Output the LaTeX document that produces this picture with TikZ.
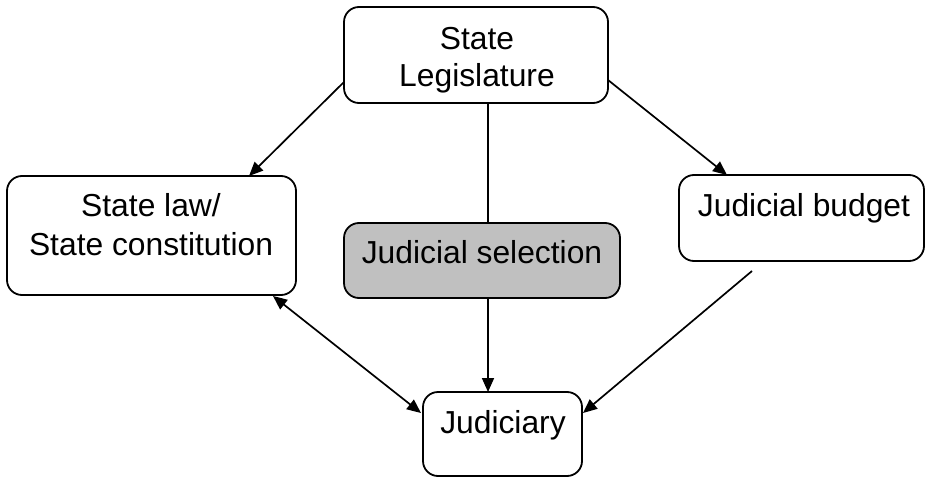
\documentclass[tikz,border=0pt]{standalone}
\usepackage{fontspec}
\setmainfont{Liberation Sans}
\usetikzlibrary{calc,arrows.meta}
\definecolor{selgray}{RGB}{192,192,192}
\tikzset{
  box/.style={draw=black, line width=1.8pt, rounded corners=15pt, inner sep=0pt, outer sep=0pt},
  lbl/.style={anchor=base, inner sep=0pt, font=\fontsize{31.8}{37}\selectfont},
  conn/.style={line width=1.7pt, draw=black},
  arr/.style={conn, -{Triangle[length=14pt,width=12pt]}},
  darr/.style={conn, {Triangle[length=14pt,width=12pt]}-{Triangle[length=14pt,width=12pt]}}
}
\begin{document}
\begin{tikzpicture}[x=1pt,y=-1pt]
\useasboundingbox (0,0) rectangle (925,478);
% boxes
\node[box, minimum width=264pt, minimum height=96pt] (leg) at (476,55) {};
\node[box, minimum width=289pt, minimum height=119pt] (law) at (151.5,235.5) {};
\node[box, fill=selgray, minimum width=276pt, minimum height=75pt] (sel) at (482,260.5) {};
\node[box, minimum width=245pt, minimum height=86pt] (bud) at (801.5,218) {};
\node[box, minimum width=159pt, minimum height=84pt] (jud) at (502.5,434) {};
% labels
\node[lbl] (legA) at (477,50) {State};
\node[lbl] (legB) at (477,87) {Legislature};
\node[lbl] (lawA) at (151,217) {State law/};
\node[lbl] (lawB) at (151,255) {State constitution};
\node[lbl] (selA) at (482,263) {Judicial selection};
\node[lbl] (budA) at (804,217) {Judicial budget};
\node[lbl] (judA) at (503,433) {Judiciary};
% connectors
\draw[arr] ($(leg.south west)+(0,-21)$) -- ($(law.north)+(97.5,0)$);
\draw[conn] ($(leg.south)+(12,0)$) -- ($(sel.north)+(6,0)$);
\draw[arr] ($(sel.south)+(6,0)$) -- ($(jud.north)+(-14.5,0)$);
\draw[arr] ($(leg.south east)+(0,-23)$) -- ($(bud.north west)+(48,0)$);
\coordinate (budstart) at ($(bud.south west)+(73,10)$);
\draw[arr] (budstart) -- ($(jud.north east)+(1,21)$);
\draw[darr] ($(law.south east)+(-23,1)$) -- ($(jud.west)+(-2,-21)$);
\end{tikzpicture}
\end{document}
